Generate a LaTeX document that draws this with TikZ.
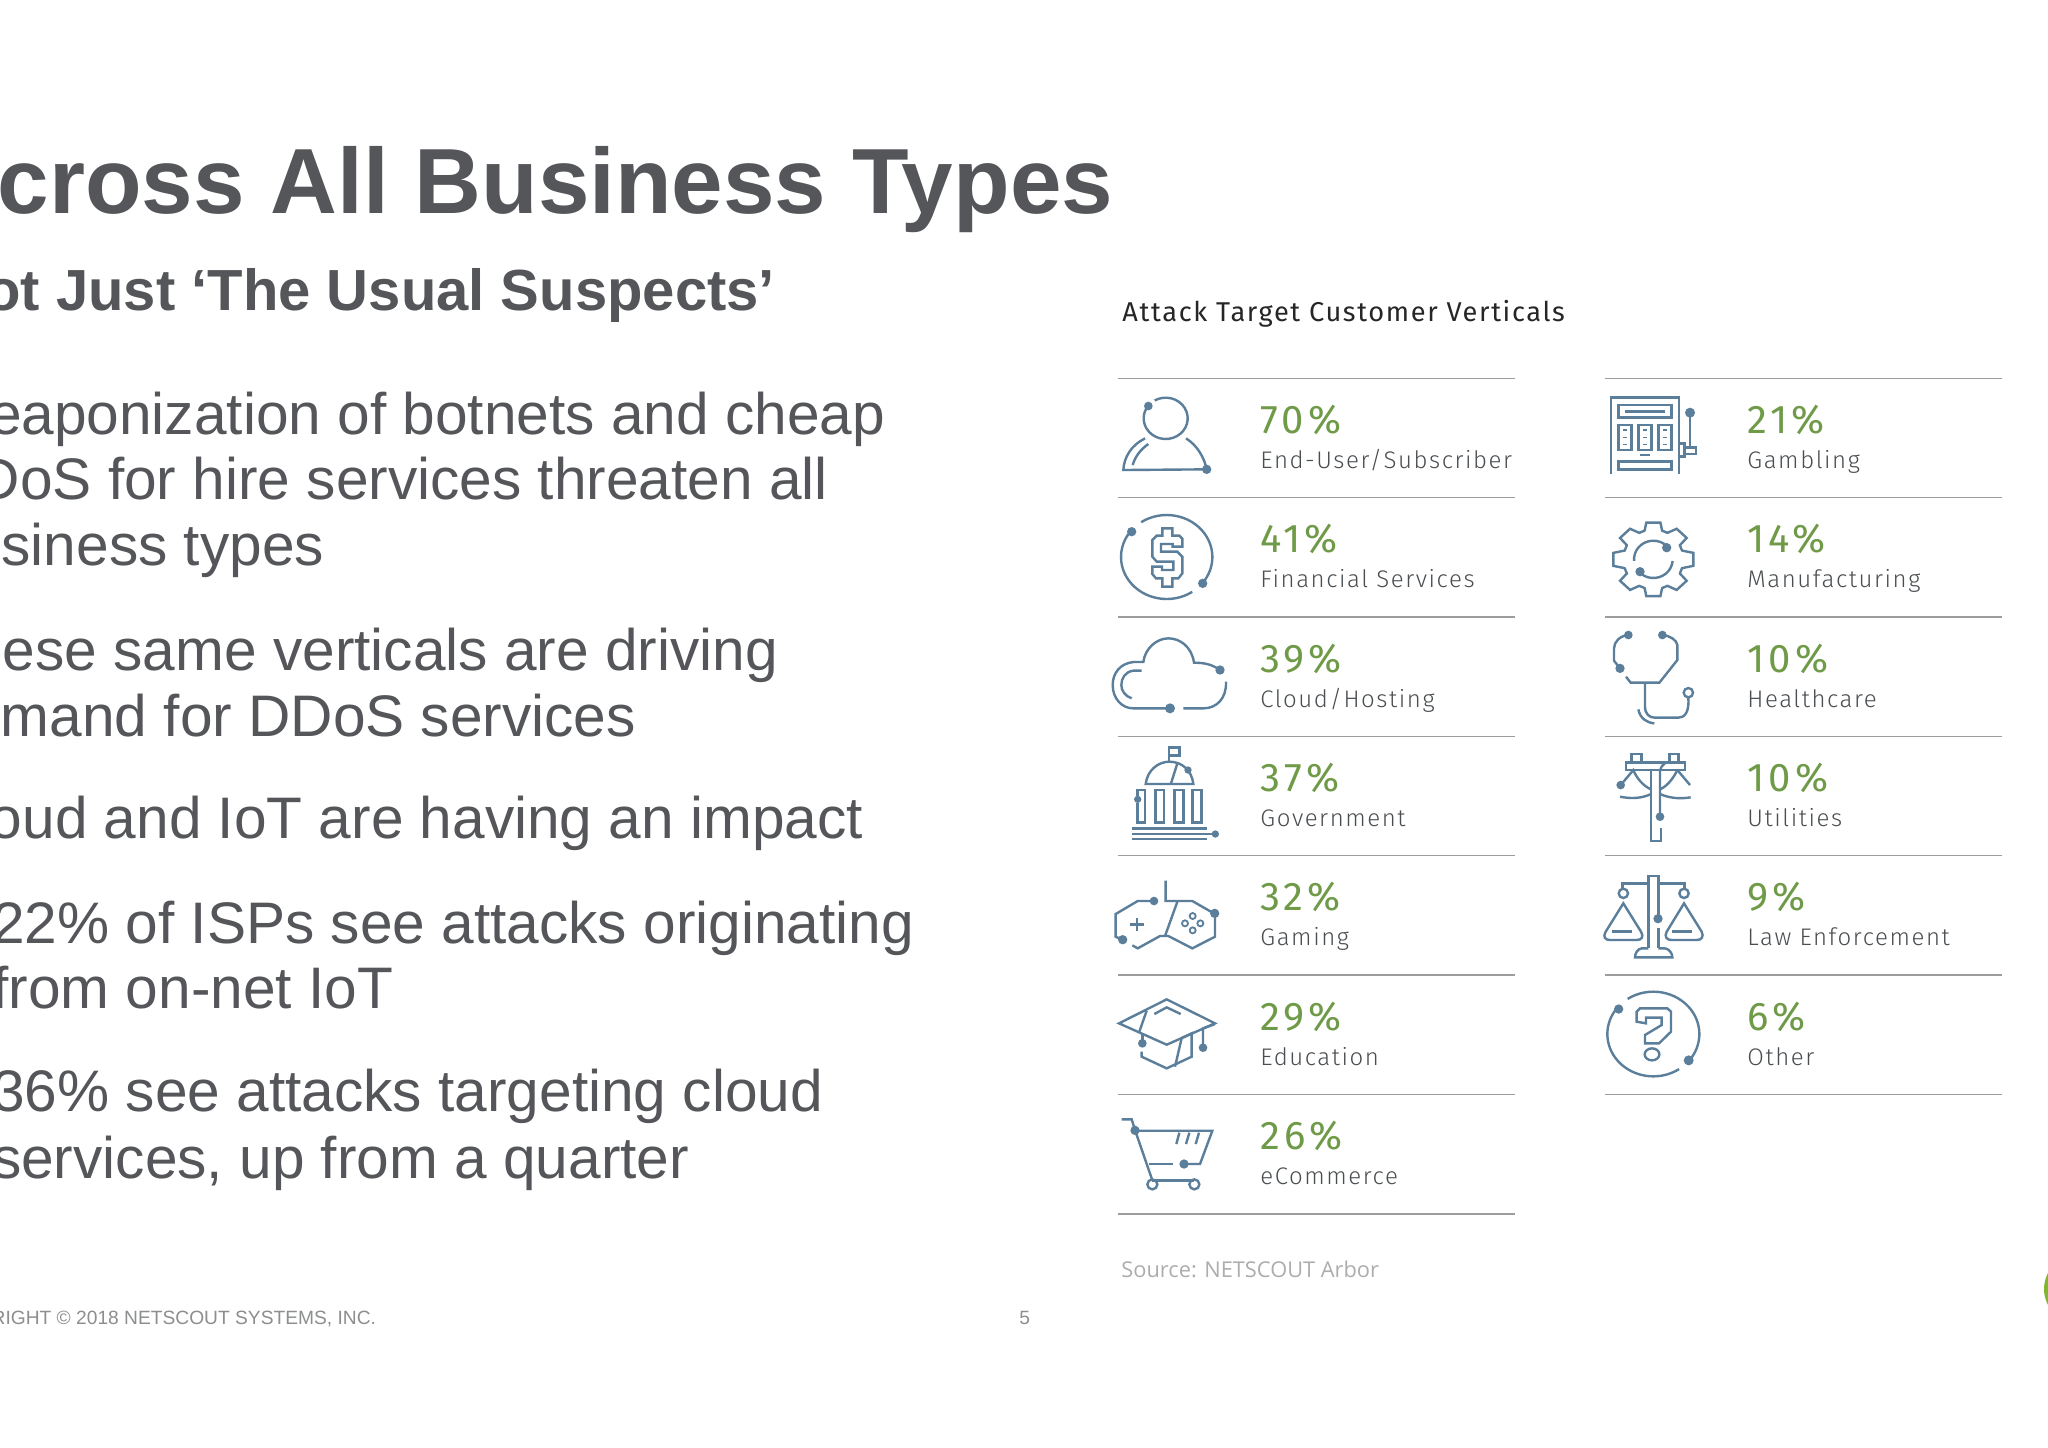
\documentclass[tikz,border=0pt]{standalone}
\usepackage{fontspec}
\setmainfont{Liberation Sans}
\newfontfamily\vfont[LetterSpace=6.5]{Fira Sans Light}
\newfontfamily\pfont[LetterSpace=10]{Fira Sans}
\newfontfamily\hfont[LetterSpace=6]{Fira Sans}
\newfontfamily\srcfont{Open Sans}
\definecolor{slate}{HTML}{5B7F9B}
\definecolor{leaf}{HTML}{6F9A47}
\definecolor{ink}{HTML}{545659}
\definecolor{lab}{HTML}{4A4E51}
\definecolor{rulec}{HTML}{9A9C9E}
\definecolor{foot}{HTML}{8C8E90}
\definecolor{lime}{HTML}{7FB82E}
\tikzset{
  txt/.style={inner sep=0pt,outer sep=0pt,anchor=base east,text=ink},
  titletxt/.style={txt,font=\fontsize{46.3}{50}\selectfont\bfseries},
  subtxt/.style={txt,font=\fontsize{29}{30}\selectfont\bfseries},
  bodytxt/.style={txt,font=\fontsize{29.3}{30}\selectfont},
  foottxt/.style={txt,text=foot,font=\fontsize{9.6}{12}\selectfont},
  headtxt/.style={inner sep=0pt,anchor=base west,text=black!85,font=\fontsize{13.6}{14}\selectfont\hfont},
  pcttxt/.style={inner sep=0pt,anchor=base west,text=leaf,font=\fontsize{20}{20}\selectfont\pfont},
  labtxt/.style={inner sep=0pt,anchor=base west,text=lab,font=\fontsize{12}{14}\selectfont\vfont},
  srctxt/.style={inner sep=0pt,anchor=base west,text=black!32,font=\fontsize{10.9}{12}\selectfont\srcfont},
  rulel/.style={draw=rulec,line width=0.7pt},
  ic/.style={draw=slate,line width=1.2pt,line join=miter},
  icfill/.style={fill=slate},
  zoomed/.style={x=0.166667pt,y=-0.166667pt},
}
\newcommand{\vrow}[5]{%
  \node[pcttxt] (#1p) at (#2,#3+55.5) {#4};
  \node[labtxt] (#1l) at (#2,#3+90.5) {#5};
}
\newcommand{\earc}[6]{\draw[ic] ({#1+#3*cos(#5)},{#2+#4*sin(#5)}) arc[start angle=#5,end angle=#6,x radius=#3,y radius=#4];}
\newcommand{\dotat}[3]{\fill[icfill] (#1,#2) circle[radius=#3];}
\begin{document}
\begin{tikzpicture}[x=0.5pt,y=-0.5pt]
\useasboundingbox (0,0) rectangle (2048,1447);
\clip (0,0) rectangle (2048,1447);
\fill[white] (0,0) rectangle (2048,1447);
% left column
\node[titletxt] (title) at (1113,213) {Across All Business Types};
\node[subtxt] (sub) at (775,310) {Not Just ‘The Usual Suspects’};
\node[bodytxt] (b1) at (885,434) {Weaponization of botnets and cheap};
\node[bodytxt] (b2) at (828,499) {DDoS for hire services threaten all};
\node[bodytxt] (b3) at (324,565) {business types};
\node[bodytxt] (b4) at (778,670) {These same verticals are driving};
\node[bodytxt] (b5) at (636,736) {demand for DDoS services};
\node[bodytxt] (b6) at (863,838) {Cloud and IoT are having an impact};
\node[bodytxt] (b7) at (914,943) {22\% of ISPs see attacks originating};
\node[bodytxt] (b8) at (393,1008) {from on-net IoT};
\node[bodytxt] (b9) at (823,1111) {36\% see attacks targeting cloud};
\node[bodytxt] (b10) at (689,1178) {services, up from a quarter};
\node[foottxt] (copy) at (376,1324) {COPYRIGHT © 2018 NETSCOUT SYSTEMS, INC.};
\node[foottxt] (pg) at (1030,1324) {5};
% header
\node[headtxt] (head) at (1122,321) {Attack Target Customer Verticals};
% rules
\foreach \y in {378.5,497.5,617,736.5,855.5,975,1094.5,1214} \draw[rulel] (1118,\y) -- (1515,\y);
\foreach \y in {378.5,497.5,617,736.5,855.5,975,1094.5} \draw[rulel] (1605,\y) -- (2002,\y);
% rows
\vrow{a}{1260}{378}{70\%}{End-User/Subscriber}
\vrow{b}{1260}{497}{41\%}{Financial Services}
\vrow{c}{1260}{617}{39\%}{Cloud/Hosting}
\vrow{d}{1260}{736}{37\%}{Government}
\vrow{e}{1260}{855}{32\%}{Gaming}
\vrow{f}{1260}{975}{29\%}{Education}
\vrow{g}{1260}{1094}{26\%}{eCommerce}
\vrow{h}{1747}{378}{21\%}{Gambling}
\vrow{i}{1747}{497}{14\%}{Manufacturing}
\vrow{j}{1747}{617}{10\%}{Healthcare}
\vrow{k}{1747}{736}{10\%}{Utilities}
\vrow{l}{1747}{855}{9\%}{Law Enforcement}
\vrow{m}{1747}{975}{6\%}{Other}
\node[srctxt] (src) at (1121,1277) {Source: NETSCOUT Arbor};
% green circle at edge
\fill[lime] (2078,1289) circle[radius=34];
% icons, upper left
\begin{scope}[shift={(1100,370)},zoomed]
  % person
  \earc{197}{145}{66}{62}{240}{575}
  \dotat{145}{108}{13}
  \draw[ic] (135,205) .. controls (95,225) and (72,260) .. (70,300) -- (320,298);
  \draw[ic] (258,205) .. controls (290,225) and (312,260) .. (320,298);
  \draw[ic] (145,222) .. controls (122,238) and (105,260) .. (98,285);
  \dotat{320}{298}{14}
  % dollar
  \earc{200}{561}{137}{126}{236}{398}
  \earc{200}{561}{137}{126}{56}{218}
  \dotat{95}{485}{14}
  \dotat{308}{640}{14}
  \draw[ic] (187,475) -- (217,475) -- (217,497) -- (238,497) -- (247,506) -- (247,530) -- (218,530) -- (218,522) -- (183,522) -- (183,545) -- (232,545) -- (247,560) -- (247,610) -- (235,625) -- (217,625) -- (217,650) -- (187,650) -- (187,625) -- (168,625) -- (157,612) -- (157,590) -- (186,590) -- (186,600) -- (220,600) -- (220,575) -- (170,575) -- (157,560) -- (157,510) -- (170,497) -- (187,497) -- cycle;
  % cloud
  \draw[ic] (360,900) .. controls (335,882) and (310,878) .. (282,878) .. controls (275,830) and (240,805) .. (205,805) .. controls (170,805) and (135,835) .. (130,876) -- (100,876) .. controls (60,880) and (38,910) .. (38,945) .. controls (38,985) and (65,1015) .. (100,1015) -- (210,1015);
  \draw[ic] (250,1015) -- (310,1015) .. controls (350,1015) and (380,985) .. (378,935);
  \draw[ic] (125,902) -- (100,902) .. controls (75,905) and (64,925) .. (64,945) .. controls (64,962) and (75,978) .. (95,985);
  \dotat{360}{900}{14}
  \dotat{210}{1015}{15}
  % government
  \draw[ic] (207,1175) -- (207,1133) -- (238,1133) -- (238,1157) -- (207,1157);
  \draw[ic] (137,1242) .. controls (142,1200) and (175,1175) .. (208,1175) .. controls (245,1175) and (275,1200) .. (280,1242) -- cycle;
  \draw[ic] (213,1240) -- (232,1180);
  \dotat{264}{1200}{11}
  \draw[ic] (113,1300) -- (113,1357) -- (135,1357) -- (135,1260) -- (113,1260) -- (113,1278);
  \dotat{113}{1288}{11}
  \draw[ic] (167,1260) rectangle (192,1357);
  \draw[ic] (223,1260) rectangle (250,1357);
  \draw[ic] (278,1260) rectangle (305,1357);
  \draw[ic] (97,1375) -- (322,1375);
  \draw[ic] (97,1391) -- (345,1391);
  \draw[ic] (97,1407) -- (322,1407);
  \dotat{346}{1392}{11}
\end{scope}
% icons, lower left
\begin{scope}[shift={(1100,840)},zoomed]
  % gamepad
  \draw[ic] (162,183) -- (113,183) -- (47,222) -- (47,290) -- (68,300);
  \draw[ic] (97,316) -- (113,325) -- (180,288) -- (205,288) -- (277,325) -- (345,290) -- (345,222) -- (277,183) -- (197,183) -- (197,122);
  \draw[ic] (232,185) -- (195,288);
  \draw[ic] (91,253) -- (131,253) (111,235) -- (111,272);
  \foreach \p/\q in {278/228,255/250,301/250,278/271} \draw[ic,line width=0.9pt] (\p,\q) circle[radius=9];
  \dotat{162}{183}{13}
  \dotat{344}{220}{14}
  \dotat{68}{299}{14}
  % mortarboard
  \draw[ic] (57,550) -- (200,478) -- (345,550) -- (200,614) -- cycle;
  \draw[ic] (163,522) -- (200,502) -- (242,522);
  \draw[ic] (140,512) -- (118,575);
  \draw[ic] (345,552) -- (309,565) -- (309,623);
  \dotat{309}{623}{13}
  \draw[ic] (127,582) -- (127,610);
  \dotat{127}{610}{13}
  \draw[ic] (125,635) -- (125,650) -- (200,685) -- (275,650) -- (275,580) -- (245,594) -- (225,680);
  % cart
  \draw[ic] (65,838) -- (95,838) -- (105,870) -- (157,1021);
  \draw[ic] (105,872) -- (337,872) -- (300,972) -- (252,972);
  \draw[ic] (148,972) -- (218,972);
  \draw[ic] (157,1021) -- (283,1021);
  \draw[ic] (157,1033) circle[radius=15];
  \draw[ic] (283,1033) circle[radius=15];
  \draw[ic] (238,878) -- (229,912) (268,878) -- (258,912) (297,878) -- (287,912);
  \dotat{105}{871}{14}
  \dotat{252}{972}{14}
\end{scope}
% icons, upper right
\begin{scope}[shift={(1590,370)},zoomed]
  % slot machine
  \draw[ic] (63,313) -- (63,82) -- (267,82) -- (267,313);
  \draw[ic] (85,105) rectangle (245,143);
  \draw[ic] (105,124) -- (225,124);
  \foreach \p in {85,145,205} {
    \draw[ic] (\p,165) rectangle (\p+40,240);
    \foreach \q in {180,202,224} \draw[ic,line width=0.8pt] (\p+14,\q) -- (\p+26,\q);
  }
  \draw[ic] (150,255) -- (180,255);
  \draw[ic] (85,275) rectangle (245,298);
  \draw[ic] (300,128) -- (300,232);
  \draw[ic] (283,232) rectangle (318,252);
  \draw[ic] (267,220) -- (283,220) -- (283,260) -- (267,260);
  \dotat{300}{128}{15}
  % gear
  \foreach \a in {0,45,...,315} {
    \draw[ic,line cap=round] ({190+90*cos(\a-17)},{568+90*sin(\a-17)}) -- ({190+122*cos(\a-10)},{568+112*sin(\a-10)}) -- ({190+122*cos(\a+10)},{568+112*sin(\a+10)}) -- ({190+90*cos(\a+17)},{568+90*sin(\a+17)}) -- ({190+90*cos(\a+28)},{568+90*sin(\a+28)});
  }
  \earc{190}{568}{58}{56}{175}{319}
  \earc{190}{568}{58}{56}{5}{137}
  \dotat{230}{533}{14}
  \dotat{150}{605}{14}
  % stethoscope
  \draw[ic] (115,795) .. controls (90,797) and (72,815) .. (72,835) -- (72,872) -- (90,895);
  \draw[ic] (108,920) -- (122,938) -- (208,938) -- (262,870) -- (262,825) .. controls (260,810) and (240,797) .. (217,795);
  \draw[ic] (165,938) -- (165,1010) .. controls (165,1032) and (178,1043) .. (195,1043) -- (265,1043) .. controls (285,1043) and (298,1025) .. (295,982);
  \draw[ic] (295,968) circle[radius=14];
  \draw[ic] (145,1018) .. controls (150,1045) and (170,1058) .. (193,1060);
  \dotat{115}{795}{13}
  \dotat{217}{795}{13}
  \dotat{90}{895}{14}
  % utility pole
  \draw[ic] (108,1177) rectangle (285,1200);
  \draw[ic] (125,1177) -- (125,1152) -- (155,1152) -- (155,1177);
  \draw[ic] (238,1177) -- (238,1152) -- (265,1152) -- (265,1177);
  \draw[ic] (183,1200) -- (183,1412) -- (213,1412) -- (213,1375);
  \draw[ic] (210,1340) -- (210,1205) .. controls (212,1190) and (218,1185) .. (224,1180);
  \draw[ic] (92,1245) -- (130,1200) .. controls (140,1225) and (160,1248) .. (183,1258);
  \draw[ic] (262,1200) -- (300,1245);
  \draw[ic] (262,1200) .. controls (250,1225) and (232,1248) .. (210,1258);
  \draw[ic] (90,1280) .. controls (125,1287) and (155,1285) .. (183,1272);
  \draw[ic] (210,1272) .. controls (240,1285) and (270,1287) .. (302,1282);
  \dotat{92}{1245}{13}
  \dotat{210}{1340}{13}
\end{scope}
% icons, lower right
\begin{scope}[shift={(1590,840)},zoomed]
  % scales
  \draw[ic] (175,325) -- (175,108) -- (205,108) -- (205,232);
  \draw[ic] (205,265) -- (205,325);
  \draw[ic] (175,130) -- (97,130) -- (97,148);
  \draw[ic] (205,130) -- (283,130) -- (283,148);
  \draw[ic] (100,160) circle[radius=14];
  \draw[ic] (282,160) circle[radius=14];
  \draw[ic] (100,190) -- (47,275) .. controls (38,290) and (45,300) .. (60,300) -- (140,300) .. controls (155,300) and (162,290) .. (153,275) -- cycle;
  \draw[ic] (282,190) -- (230,275) .. controls (222,290) and (230,300) .. (245,300) -- (320,300) .. controls (335,300) and (342,290) .. (335,275) -- cycle;
  \draw[ic] (65,274) -- (125,274);
  \draw[ic] (245,274) -- (305,274);
  \draw[ic] (175,325) -- (155,325) .. controls (142,327) and (135,340) .. (135,352) -- (247,352) .. controls (247,340) and (238,327) .. (225,325) -- (205,325);
  \dotat{204}{236}{14}
  % question
  \earc{190}{582}{138}{127}{236}{399}
  \earc{190}{582}{138}{127}{56}{218}
  \dotat{86}{507}{14}
  \dotat{296}{661}{15}
  \draw[ic] (140,545) -- (140,515) -- (150,505) -- (232,505) -- (243,515) -- (243,575) -- (207,610) -- (165,610) -- (165,585) -- (215,555) -- (215,533) -- (168,533) -- (168,550) -- cycle;
  \draw[ic] (186,643) circle[x radius=22,y radius=18];
\end{scope}
\end{tikzpicture}
\end{document}
